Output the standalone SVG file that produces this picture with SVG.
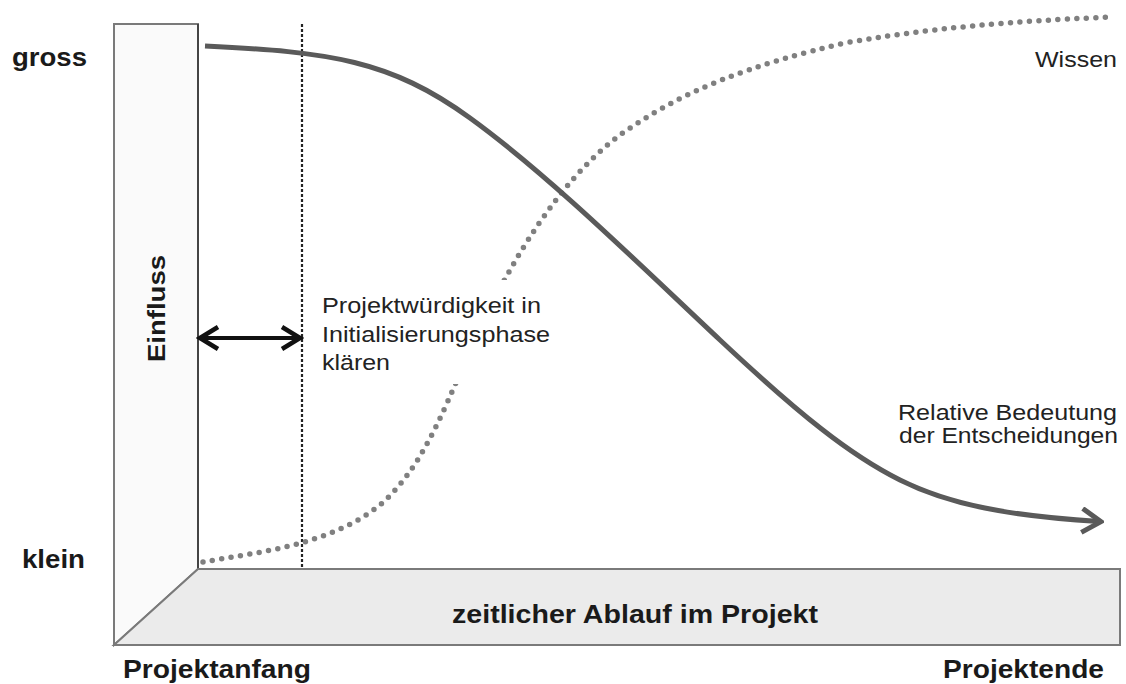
<svg xmlns="http://www.w3.org/2000/svg" width="1126" height="684" viewBox="0 0 1126 684">
  <style>
    .bold { font-family: "Liberation Sans", Arial, sans-serif; font-weight: bold; fill: #1a1a1a; }
    .reg { font-family: "Liberation Sans", Arial, sans-serif; fill: #222; }
    .face { stroke: #7a7a7a; stroke-width: 2; stroke-linejoin: miter; }
    .knowledge { fill: none; stroke: #808080; stroke-width: 5.5; stroke-linecap: round; stroke-dasharray: 0 9.5; }
    .decision { fill: none; stroke: #5a5a5a; stroke-width: 5; }
    .phase { fill: none; stroke: #222; stroke-width: 2.2; stroke-dasharray: 3 2; }
    .span { fill: none; stroke: #111; stroke-width: 4; }
  </style>
  <defs>
    <marker id="headGrey" markerUnits="userSpaceOnUse" viewBox="0 0 24 28" markerWidth="24" markerHeight="28" refX="19" refY="14" orient="auto">
      <path d="M2,2 L21,14 L2,26" fill="none" stroke="#5a5a5a" stroke-width="5" stroke-linejoin="miter"/>
    </marker>
    <marker id="headBlack" markerUnits="userSpaceOnUse" viewBox="0 0 24 26" markerWidth="24" markerHeight="26" refX="18" refY="13" orient="auto-start-reverse">
      <path d="M2,2 L20,13 L2,24" fill="none" stroke="#111" stroke-width="4.5" stroke-linejoin="miter"/>
    </marker>
  </defs>

  <rect width="1126" height="684" fill="#fff"/>

  <!-- axis planes -->
  <g id="wall">
    <polygon class="face" points="114,24 198,24 198,569 114,645" fill="#fafafa"/>
    <line x1="198" y1="24" x2="198" y2="569" stroke="#333" stroke-width="1.5"/>
    <text class="bold" font-size="24" transform="translate(165,308.5) rotate(-90)" text-anchor="middle" textLength="107" lengthAdjust="spacingAndGlyphs">Einfluss</text>
  </g>
  <g id="floor">
    <polygon class="face" points="114,645 198,569 1120,569 1120,645" fill="#ebebeb"/>
    <text class="bold" font-size="26" x="452" y="623" textLength="366" lengthAdjust="spacingAndGlyphs">zeitlicher Ablauf im Projekt</text>
  </g>

  <!-- axis labels -->
  <g id="axis-labels">
    <text class="bold" font-size="25" x="12" y="66" textLength="75" lengthAdjust="spacingAndGlyphs">gross</text>
    <text class="bold" font-size="25" x="22" y="568" textLength="63" lengthAdjust="spacingAndGlyphs">klein</text>
    <text class="bold" font-size="25" x="123" y="678" textLength="188" lengthAdjust="spacingAndGlyphs">Projektanfang</text>
    <text class="bold" font-size="25" x="943" y="678" textLength="161" lengthAdjust="spacingAndGlyphs">Projektende</text>
  </g>

  <!-- curves and markers -->
  <g id="connectors">
    <line class="phase" x1="302" y1="24" x2="302" y2="569"/>
    <path id="wissen-curve" class="knowledge" d="M203,562 C260,552 330,545 380,505 C420,470 440,420 470,350 C510,260 560,180 620,135 C680,92 750,64 850,42 C950,25 1040,20 1112,17"/>
    <path id="bedeutung-curve" class="decision" marker-end="url(#headGrey)" d="M205,46 C330,52 390,60 470,118 S640,265 720,340 S850,455 900,480 S1010,516 1099,521.5"/>
    <line class="span" x1="202" y1="338" x2="298" y2="338" marker-start="url(#headBlack)" marker-end="url(#headBlack)"/>
  </g>

  <!-- annotations -->
  <g id="phase-label">
    <rect x="316" y="280" width="240" height="104" fill="#fff"/>
    <text class="reg" font-size="22" x="322" y="313" textLength="219" lengthAdjust="spacingAndGlyphs">Projektwürdigkeit in</text>
    <text class="reg" font-size="22" x="322" y="342" textLength="228" lengthAdjust="spacingAndGlyphs">Initialisierungsphase</text>
    <text class="reg" font-size="22" x="322" y="370" textLength="68" lengthAdjust="spacingAndGlyphs">klären</text>
  </g>
  <g id="wissen-label">
    <text class="reg" font-size="22" x="1035" y="67" textLength="82" lengthAdjust="spacingAndGlyphs">Wissen</text>
  </g>
  <g id="bedeutung-label">
    <text class="reg" font-size="22" x="898" y="420" textLength="219" lengthAdjust="spacingAndGlyphs">Relative Bedeutung</text>
    <text class="reg" font-size="22" x="899" y="443" textLength="219" lengthAdjust="spacingAndGlyphs">der Entscheidungen</text>
  </g>
</svg>
